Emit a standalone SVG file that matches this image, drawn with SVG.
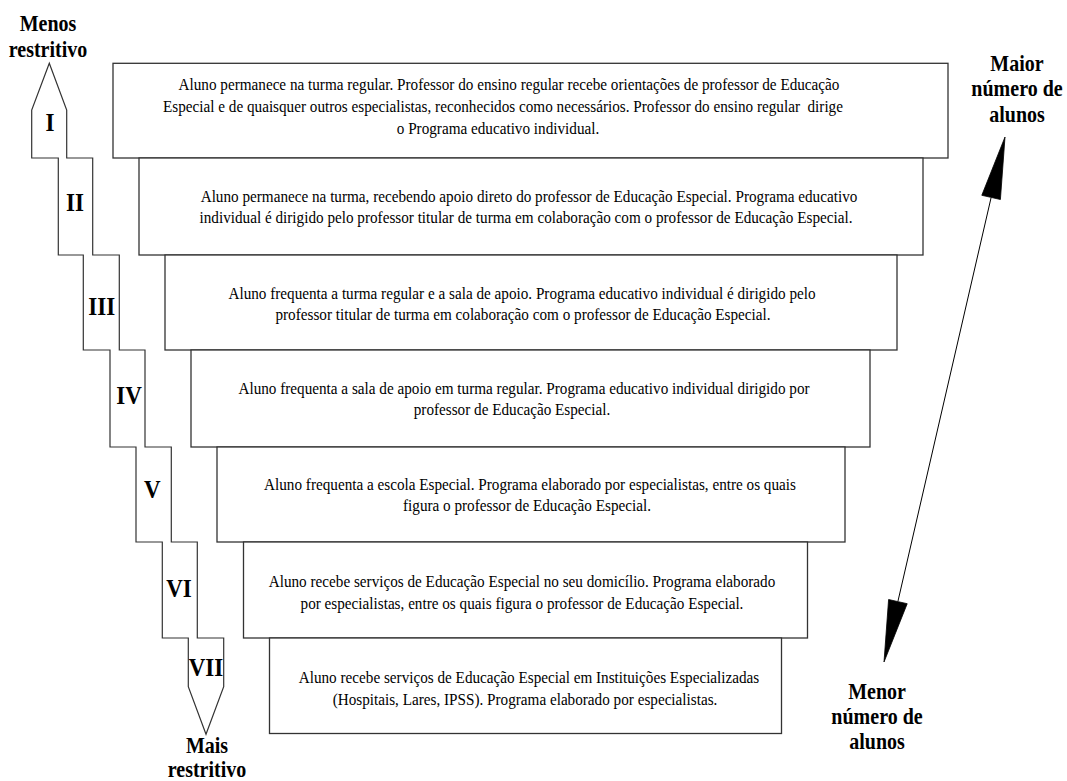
<svg xmlns="http://www.w3.org/2000/svg" width="1067" height="781" viewBox="0 0 1067 781">
<style>
.box{fill:#fff;stroke:#333;stroke-width:1.3}
.t{font-family:"Liberation Serif","Times New Roman",serif;font-size:16px;fill:#000;text-anchor:middle}
.b{font-family:"Liberation Serif","Times New Roman",serif;font-size:20px;font-weight:bold;fill:#000;text-anchor:middle}
.n{font-family:"Liberation Serif","Times New Roman",serif;font-size:23px;font-weight:bold;fill:#000;text-anchor:middle}
.stair{fill:#fff;stroke:#333;stroke-width:1.2}
</style>
<rect width="1067" height="781" fill="#fff"/>
<g id="scale">
<polygon class="stair" points="49.3,63.3 66.7,110 66.7,158 92.7,158 92.7,255 119.3,255 119.3,350 145,350 145,447 171.3,447 171.3,542 197.3,542 197.3,638 223.7,638 223.7,686.7 206,734.3 188.3,686.7 188.3,638 162.3,638 162.3,542 136,542 136,447 110,447 110,350 83.3,350 83.3,255 58.3,255 58.3,158 31.7,158 31.7,110"/>
<text class="n" transform="translate(50,130.5) scale(1,1.1)">I</text>
<text class="n" transform="translate(75,210.5) scale(1,1.1)">II</text>
<text class="n" transform="translate(101.7,315) scale(1,1.1)">III</text>
<text class="n" transform="translate(129,404) scale(1,1.1)">IV</text>
<text class="n" transform="translate(152.3,498) scale(1,1.1)">V</text>
<text class="n" transform="translate(179,596.5) scale(1,1.1)">VI</text>
<text class="n" transform="translate(206,676) scale(1,1.1)">VII</text>
</g>
<g id="label-menos">
<text class="b" transform="translate(48,31) scale(1,1.15)">Menos</text>
<text class="b" transform="translate(48,57) scale(1,1.15)">restritivo</text>
</g>
<g id="label-mais">
<text class="b" transform="translate(207,753) scale(1,1.15)">Mais</text>
<text class="b" transform="translate(207,777) scale(1,1.15)">restritivo</text>
</g>
<g id="label-maior">
<text class="b" transform="translate(1017,70.5) scale(1,1.15)">Maior</text>
<text class="b" transform="translate(1017,96) scale(1,1.15)">número de</text>
<text class="b" transform="translate(1017,121.5) scale(1,1.15)">alunos</text>
</g>
<g id="label-menor">
<text class="b" transform="translate(877,699) scale(1,1.15)">Menor</text>
<text class="b" transform="translate(877,724) scale(1,1.15)">número de</text>
<text class="b" transform="translate(877,749) scale(1,1.15)">alunos</text>
</g>
<g id="level1">
<rect class="box" x="113" y="63.3" width="835" height="94.7"/>
<text class="t" transform="translate(509,89.5) scale(0.95,1)">Aluno permanece na turma regular. Professor do ensino regular recebe orientações de professor de Educação</text>
<text class="t" transform="translate(503,111.5) scale(0.95,1)" xml:space="preserve">Especial e de quaisquer outros especialistas, reconhecidos como necessários. Professor do ensino regular  dirige</text>
<text class="t" transform="translate(498,133.5) scale(0.95,1)">o Programa educativo individual.</text>
</g>
<g id="level2">
<rect class="box" x="139" y="158" width="784" height="97"/>
<text class="t" transform="translate(529,201.5) scale(0.95,1)">Aluno permanece na turma, recebendo apoio direto do professor de Educação Especial. Programa educativo</text>
<text class="t" transform="translate(526,223) scale(0.95,1)">individual é dirigido pelo professor titular de turma em colaboração com o professor de Educação Especial.</text>
</g>
<g id="level3">
<rect class="box" x="165" y="255" width="732" height="95"/>
<text class="t" transform="translate(522,299) scale(0.95,1)">Aluno frequenta a turma regular e a sala de apoio. Programa educativo individual é dirigido pelo</text>
<text class="t" transform="translate(523,320) scale(0.95,1)">professor titular de turma em colaboração com o professor de Educação Especial.</text>
</g>
<g id="level4">
<rect class="box" x="191" y="350" width="679" height="97"/>
<text class="t" transform="translate(524,393.5) scale(0.95,1)">Aluno frequenta a sala de apoio em turma regular. Programa educativo individual dirigido por</text>
<text class="t" transform="translate(512,415) scale(0.95,1)">professor de Educação Especial.</text>
</g>
<g id="level5">
<rect class="box" x="217" y="447" width="628" height="95"/>
<text class="t" transform="translate(530,489.5) scale(0.95,1)">Aluno frequenta a escola Especial. Programa elaborado por especialistas, entre os quais</text>
<text class="t" transform="translate(527,511) scale(0.95,1)">figura o professor de Educação Especial.</text>
</g>
<g id="level6">
<rect class="box" x="243.5" y="542" width="564" height="96"/>
<text class="t" transform="translate(522,587) scale(0.95,1)">Aluno recebe serviços de Educação Especial no seu domicílio. Programa elaborado</text>
<text class="t" transform="translate(522,608.5) scale(0.95,1)">por especialistas, entre os quais figura o professor de Educação Especial.</text>
</g>
<g id="level7">
<rect class="box" x="269.5" y="638" width="512" height="95.5"/>
<text class="t" transform="translate(529,683) scale(0.95,1)">Aluno recebe serviços de Educação Especial em Instituições Especializadas</text>
<text class="t" transform="translate(525,704.5) scale(0.95,1)">(Hospitais, Lares, IPSS). Programa elaborado por especialistas.</text>
</g>
<g id="connectors">
<line x1="991" y1="198" x2="898" y2="601" stroke="#000" stroke-width="1"/>
<polygon points="1005,137 1000.4,199.5 981.8,195.3" fill="#000" stroke="#000" stroke-width="0.8"/>
<polygon points="884,662 888.6,599.5 907.2,603.7" fill="#000" stroke="#000" stroke-width="0.8"/>
</g>
</svg>
